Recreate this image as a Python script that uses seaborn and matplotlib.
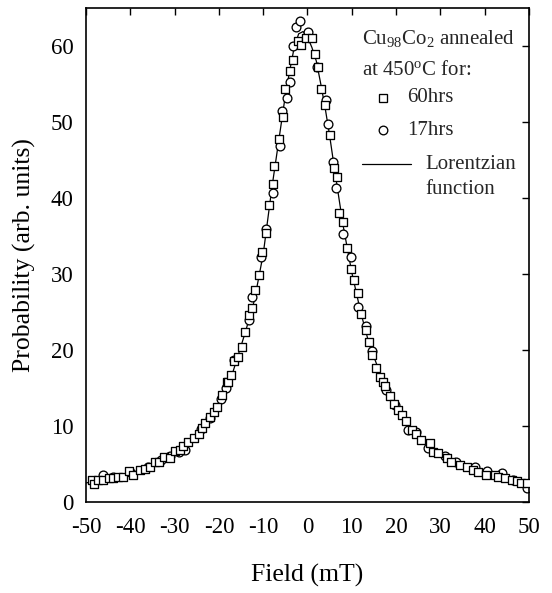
import matplotlib
matplotlib.use("Agg")
import matplotlib.pyplot as plt
import seaborn as sns
import pandas as pd

# ---- data ----
x60 = [-48.7, -48.3, -47.2, -46.1, -44.9, -43.8, -42.7, -41.6, -40.4, -39.3,
       -37.8, -36.7, -35.5, -34.4, -33.6, -32.5, -31.0, -29.9, -28.7, -28.0,
       -26.9, -25.7, -24.6, -23.8, -23.1, -21.9, -21.2, -20.4, -19.3, -18.2,
       -18.0, -17.3, -16.5, -15.8, -14.8, -14.0, -13.3, -12.5, -11.8, -11.0,
       -10.25, -9.35, -8.75, -7.85, -7.5, -6.5, -5.6, -5.0, -3.9, -3.3,
       -2.2, -1.4, -0.3, 1.0, 1.8, 2.3, 3.1, 4.0, 5.0, 5.9,
       6.6, 7.2, 8.1, 9.0, 9.9, 10.6, 11.4, 12.1, 13.1, 13.8,
       14.6, 15.5, 16.3, 17.0, 17.4, 18.55, 19.5, 20.4, 21.4, 22.3,
       23.5, 24.6, 25.7, 27.6, 28.3, 29.5, 31.4, 32.5, 34.4, 35.9,
       37.4, 38.5, 40.4, 42.3, 43.1, 44.6, 46.1, 47.2, 48.3, 49.5]
y60 = [2.9, 2.4, 2.9, 2.9, 3.1, 3.1, 3.3, 3.3, 4.1, 3.55,
       4.2, 4.4, 4.65, 5.2, 5.3, 5.95, 5.75, 6.75, 6.9, 7.3,
       7.9, 8.4, 9.0, 9.7, 10.4, 11.2, 11.9, 12.5, 14.1, 15.8,
       15.8, 16.7, 18.5, 19.1, 20.4, 22.4, 24.6, 25.5, 27.9, 29.9,
       32.9, 35.4, 39.1, 41.9, 44.2, 47.7, 50.7, 54.3, 56.7, 58.2,
       60.6, 60.1, 61.0, 61.0, 58.9, 57.3, 54.3, 52.2, 48.3, 43.9,
       42.7, 38.0, 36.9, 33.4, 30.6, 29.2, 27.5, 24.8, 22.6, 21.1,
       19.3, 17.6, 16.5, 15.8, 15.2, 13.9, 12.9, 12.1, 11.4, 10.6,
       9.5, 9.0, 8.2, 7.7, 6.6, 6.5, 5.75, 5.3, 4.9, 4.6,
       4.2, 4.0, 3.55, 3.55, 3.25, 3.1, 2.9, 2.7, 2.5, 2.5]

x17 = [-48.2, -46.2, -44.0, -40.0, -36.0, -33.0, -31.0, -29.1, -27.6, -24.0,
       -22.0, -19.5, -18.4, -16.5, -13.3, -12.5, -10.5, -9.35, -7.85, -6.3,
       -5.7, -4.6, -3.85, -3.3, -2.7, -1.65, 0.07, 2.2, 4.1, 4.6,
       5.7, 6.5, 8.0, 9.9, 11.4, 13.1, 14.6, 17.8, 19.7, 22.7,
       24.5, 27.2, 31.0, 33.5, 37.8, 40.5, 43.8, 46.5, 49.5]
y17 = [2.7, 3.55, 3.3, 3.9, 4.6, 5.5, 6.1, 6.6, 6.8, 9.6,
       11.1, 13.5, 15.0, 18.7, 23.9, 27.0, 32.3, 35.9, 40.6, 46.8,
       51.4, 53.1, 55.3, 60.0, 62.5, 63.3, 61.9, 57.3, 52.9, 49.8,
       44.8, 41.3, 35.2, 32.2, 25.7, 23.1, 19.9, 14.7, 12.8, 9.5,
       9.2, 7.1, 6.0, 5.2, 4.6, 4.1, 3.8, 2.9, 1.9]

x_fit = [-50, -45, -40, -35, -30, -25, -20, -17, -14, -12, -10, -8, -6, -5,
         -4, -3, -2, -1, 0, 1, 2, 3, 4, 5, 6, 8, 10, 12, 14, 17, 20, 25,
         30, 35, 40, 45, 50]
y_fit = [2.5, 3.1, 3.8, 4.8, 6.3, 8.8, 13.0, 16.8, 22.4, 26.5, 32.6, 41.5,
         49.5, 53.5, 56.8, 59.8, 61.6, 61.9, 61.2, 59.8, 58.0, 55.0, 51.8,
         48.2, 44.2, 36.5, 30.2, 25.0, 20.6, 16.0, 12.4, 8.6, 6.4, 4.8, 3.8,
         3.1, 2.4]

x_ticks = [-50, -40, -30, -20, -10, 0, 10, 20, 30, 40, 50]
y_ticks = [0, 10, 20, 30, 40, 50, 60]

df60 = pd.DataFrame({"x": x60, "y": y60})
df17 = pd.DataFrame({"x": x17, "y": y17})
dffit = pd.DataFrame({"x": x_fit, "y": y_fit})

sns.set_theme(style="white")
plt.rcParams["font.family"] = ["Liberation Serif", "DejaVu Serif"]
plt.rcParams["mathtext.fontset"] = "custom"
plt.rcParams["mathtext.rm"] = "Liberation Serif"
plt.rcParams["mathtext.it"] = "Liberation Serif:italic"
plt.rcParams["mathtext.bf"] = "Liberation Serif:bold"

fig = plt.figure(figsize=(5.52, 5.93), dpi=100)
ax = fig.add_axes([0.1558, 0.1535, 0.8025, 0.833])

sns.lineplot(data=dffit, x="x", y="y", ax=ax, color="black", linewidth=0.9,
             sort=True, zorder=1)
sns.scatterplot(data=df17, x="x", y="y", ax=ax, marker="o", s=40,
                color="white", edgecolor="black", linewidth=0.95, zorder=2)
sns.scatterplot(data=df60, x="x", y="y", ax=ax, marker="s", s=36,
                color="white", edgecolor="black", linewidth=0.95, zorder=3)

ax.set_xlim(-50, 50)
ax.set_ylim(0, 65)
ax.set_xticks(x_ticks)
ax.set_yticks(y_ticks)
ax.set_xticklabels([str(v) for v in x_ticks])
ax.set_yticklabels([str(v) for v in y_ticks])
ax.tick_params(direction="in", length=5, width=1.0, top=True, right=True,
               labelsize=16.5, colors="black")
ax.tick_params(axis="x", pad=11)
ax.tick_params(axis="y", pad=9)
for s in ax.spines.values():
    s.set_color("black")
    s.set_linewidth(1.2)

ax.set_xlabel("Field (mT)", fontsize=18.5, color="black")
ax.set_ylabel("Probability (arb. units)", fontsize=18.5, color="black")
ax.xaxis.set_label_coords(0.5, -0.125)
ax.yaxis.set_label_coords(-0.113, 0.5)

# legend drawn as text + sample markers
fs = 15
ax.text(0.623, 0.939, "Cu$_{98}$Co$_2$ annealed", transform=ax.transAxes,
        fontsize=fs, va="center", ha="left")
ax.text(0.623, 0.874, "at 450$^{\\rm o}$C for:", transform=ax.transAxes,
        fontsize=fs, va="center", ha="left")
ax.plot([0.670], [0.818], marker="s", ms=5.8, mfc="white", mec="black",
        mew=0.95, transform=ax.transAxes, linestyle="none")
ax.text(0.725, 0.818, "60hrs", transform=ax.transAxes, fontsize=fs,
        va="center", ha="left")
ax.plot([0.670], [0.753], marker="o", ms=6.2, mfc="white", mec="black",
        mew=0.95, transform=ax.transAxes, linestyle="none")
ax.text(0.725, 0.753, "17hrs", transform=ax.transAxes, fontsize=fs,
        va="center", ha="left")
ax.plot([0.623, 0.734], [0.684, 0.684], color="black", linewidth=0.9,
        transform=ax.transAxes)
ax.text(0.767, 0.684, "Lorentzian", transform=ax.transAxes, fontsize=fs,
        va="center", ha="left")
ax.text(0.767, 0.632, "function", transform=ax.transAxes, fontsize=fs,
        va="center", ha="left")

fig.savefig("out.png", dpi=100, facecolor="white")
